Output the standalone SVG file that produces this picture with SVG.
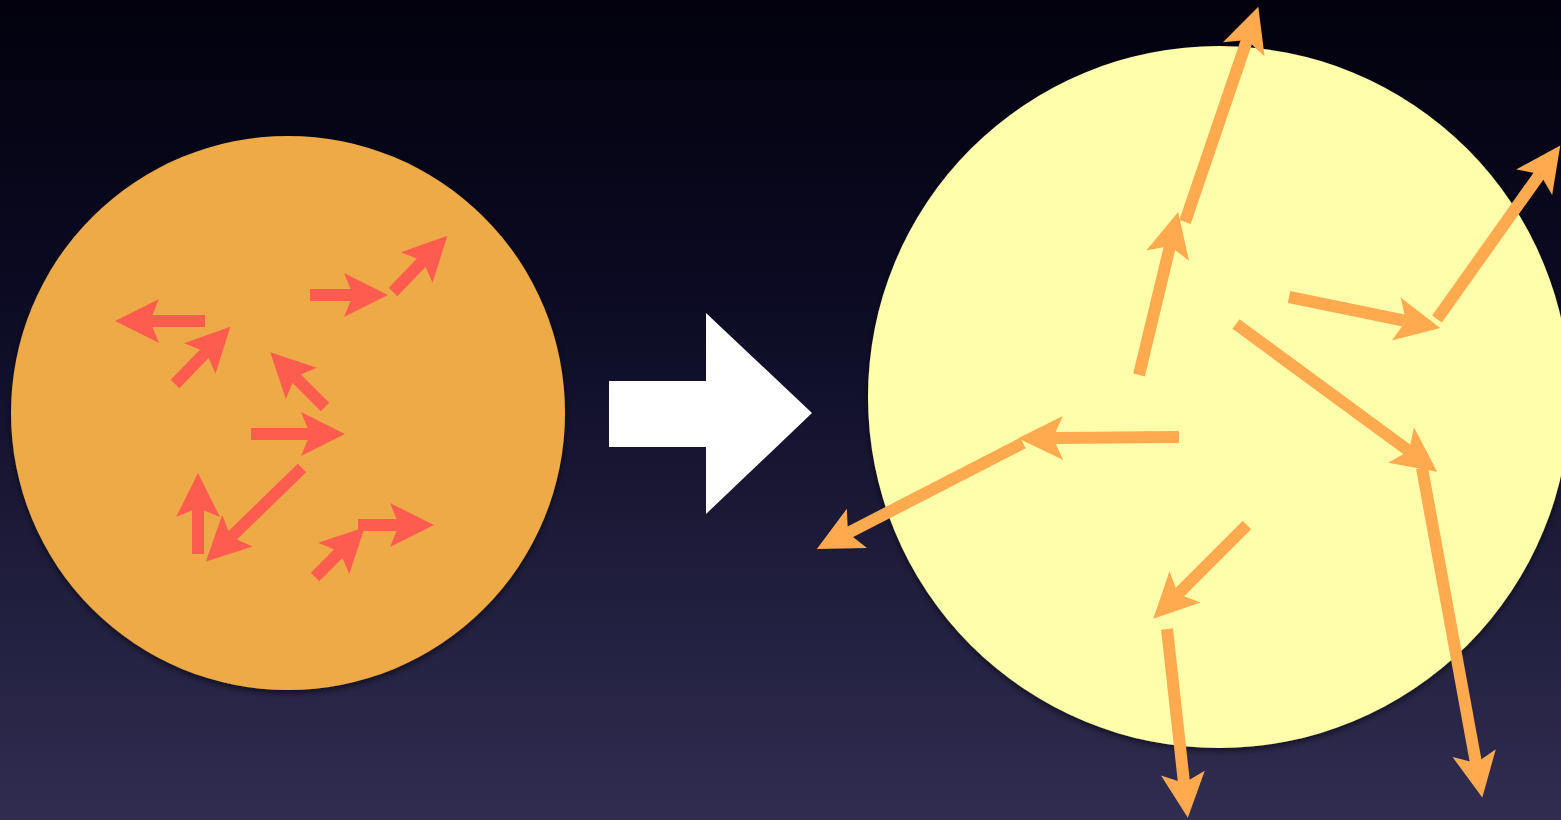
<svg xmlns="http://www.w3.org/2000/svg" width="1561" height="820" viewBox="0 0 1561 820">
  <defs>
    <linearGradient id="bg" x1="0" y1="0" x2="0" y2="1">
      <stop offset="0" stop-color="#02010d"/>
      <stop offset="0.35" stop-color="#0b0a22"/>
      <stop offset="1" stop-color="#302d51"/>
    </linearGradient>
    <filter id="shadow" x="-10%" y="-10%" width="120%" height="120%">
      <feDropShadow dx="0" dy="3" stdDeviation="3" flood-color="#000" flood-opacity="0.55"/>
    </filter>
    <marker id="headRed" markerUnits="userSpaceOnUse" viewBox="-50 -25 60 50" markerWidth="60" markerHeight="50" refX="-35" refY="0" orient="auto">
      <path d="M0,0 L-44,-22 L-35,0 L-44,22 Z" fill="#ff5c50"/>
    </marker>
    <marker id="headOrange" markerUnits="userSpaceOnUse" viewBox="-50 -25 60 50" markerWidth="60" markerHeight="50" refX="-35" refY="0" orient="auto">
      <path d="M0,0 L-45,-22 L-35,0 L-45,22 Z" fill="#ffaa4f"/>
    </marker>
  </defs>
  <style>
    .red { stroke:#ff5c50; stroke-width:12; fill:none; marker-end:url(#headRed); }
    .orange { stroke:#ffaa4f; stroke-width:12; fill:none; marker-end:url(#headOrange); }
  </style>
  <rect x="0" y="0" width="1561" height="820" fill="url(#bg)"/>

  <g id="hot-ball">
    <circle cx="288" cy="413" r="277" fill="#eeaa47" filter="url(#shadow)"/>
  </g>
  <g id="transition-arrow">
    <path d="M609,381 L706,381 L706,313 L812,413 L706,514 L706,447 L609,447 Z" fill="#ffffff"/>
  </g>
  <g id="expanded-ball">
    <circle cx="1219" cy="397" r="351" fill="#ffffab" filter="url(#shadow)"/>
  </g>

  <g id="connectors">
    <line class="red" x1="205" y1="321" x2="150" y2="321"/>
    <line class="red" x1="175" y1="384" x2="206" y2="352"/>
    <line class="red" x1="325" y1="407" x2="295" y2="377"/>
    <line class="red" x1="310" y1="295" x2="353" y2="295"/>
    <line class="red" x1="393" y1="292" x2="423" y2="261"/>
    <line class="red" x1="251" y1="434" x2="310" y2="434"/>
    <line class="red" x1="302" y1="468" x2="231" y2="537"/>
    <line class="red" x1="198" y1="554" x2="198" y2="508"/>
    <line class="red" x1="315" y1="577" x2="340" y2="552"/>
    <line class="red" x1="358" y1="525" x2="399" y2="525"/>
    <line class="orange" x1="1139" y1="375" x2="1170" y2="246"/>
    <line class="orange" x1="1185" y1="222" x2="1247" y2="40"/>
    <line class="orange" x1="1179" y1="437" x2="1053" y2="438"/>
    <line class="orange" x1="1023" y1="443" x2="848" y2="533"/>
    <line class="orange" x1="1289" y1="297" x2="1406" y2="321"/>
    <line class="orange" x1="1437" y1="319" x2="1540" y2="174"/>
    <line class="orange" x1="1236" y1="324" x2="1409" y2="451"/>
    <line class="orange" x1="1422" y1="468" x2="1476" y2="763"/>
    <line class="orange" x1="1247" y1="525" x2="1178" y2="594"/>
    <line class="orange" x1="1167" y1="629" x2="1184" y2="783"/>
  </g>
</svg>
